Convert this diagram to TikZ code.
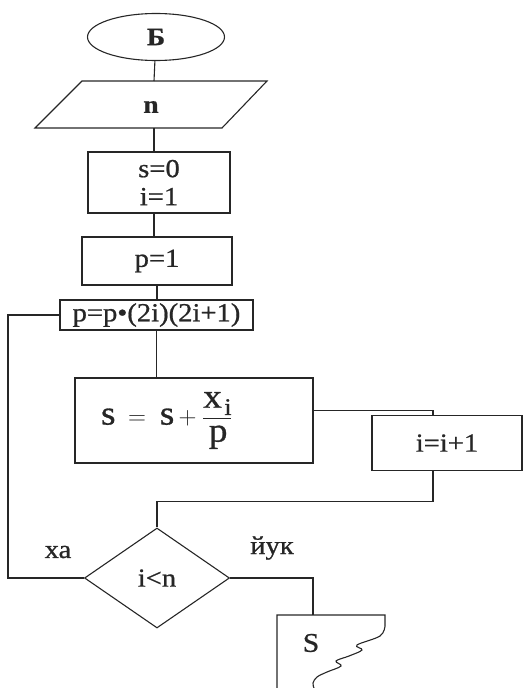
\documentclass[tikz,border=0pt]{standalone}
\usepackage{fontspec}
\setmainfont[FakeStretch=1.1,FakeBold=0.8]{Liberation Serif}
\usetikzlibrary{shapes.geometric}

\begin{document}
\begin{tikzpicture}[x=1pt,y=-1pt,line width=1.1pt,color=black!85,
  blok/.style={draw,rectangle,inner sep=0pt},
  txt/.style={font=\fontsize{26}{28}\selectfont}]
  \useasboundingbox (0,0) rectangle (524,688);

  % Boshlanish
  \node[ellipse,draw,minimum width=137pt,minimum height=47pt,inner sep=0pt,
        font=\bfseries\fontsize{25}{28}\selectfont] (start) at (156,37) {Б};

  % Kiritish (parallelogramm)
  \draw (82,81) -- (267,81) -- (222,128) -- (35,128) -- cycle;
  \coordinate (inpT) at (154,81);
  \coordinate (inpB) at (154,128);
  \node[font=\bfseries\fontsize{25}{28}\selectfont] (inp) at (151,107) {n};

  % Hisoblash bloklari
  \node[blok,txt,align=center,minimum width=142pt,minimum height=61pt] (init) at (159,182.5) {s=0\\i=1};
  \node[blok,txt,minimum width=150pt,minimum height=48pt] (pone) at (157,261) {p=1};
  \node[blok,txt,minimum width=193pt,minimum height=30pt] (prod) at (156.5,315) {p=p\textbullet(2i)(2i+1)};
  \node[blok,minimum width=238pt,minimum height=85pt,inner xsep=26pt,text width=186pt,align=left,
        font=\fontsize{34}{38}\selectfont] (sum) at (194,420.5)
    {\raisebox{-6pt}{$\mathrm{s}\;=\;\mathrm{s} + \displaystyle\frac{\mathrm{x}_{\mkern3mu\mathrm{i}}}{\mathrm{p}}$}};
  \node[blok,txt,minimum width=150pt,minimum height=55pt] (inc) at (447,443) {i=i+1};

  % Shart
  \node[diamond,draw,aspect=1.45,minimum width=145pt,minimum height=100pt,inner sep=0pt,txt] (cond) at (157,578) {i<n};
  \node[txt] (yes) at (58,552) {ха};
  \node[txt] (no) at (272,548) {йук};

  % Chiqarish (hujjat)
  \draw (277,688) -- (277,615) -- (385,615) -- (385,626)
    plot[smooth,tension=0.6] coordinates {(385,626) (380,636) (357,645) (362,650) (349,656)
      (336,661) (341,666) (327,672) (317,677) (313,683) (314,688)};
  \coordinate (outT) at (313,615);
  \node[font=\fontsize{27}{30}\selectfont] (outS) at (311,643) {S};

  % Ulanishlar
  \coordinate (loopX) at (8,0);
  \draw (start) -- (inpT);
  \draw (inpB) -- (inpB |- init.north);
  \draw (init.south -| inpB) -- (pone.north -| inpB);
  \draw (pone.south) -- (pone.south |- prod.north);
  \draw (prod.south) -- (prod.south |- sum.north);
  \draw ([yshift=10pt]sum.east) -| ([xshift=-14pt]inc.north);
  \draw ([xshift=-14pt]inc.south) -- ++(0,30) -| (cond.north);
  \draw (cond.west) -- (cond.west -| loopX) |- (prod.west);
  \draw (cond.east) -| (outT);
\end{tikzpicture}
\end{document}
